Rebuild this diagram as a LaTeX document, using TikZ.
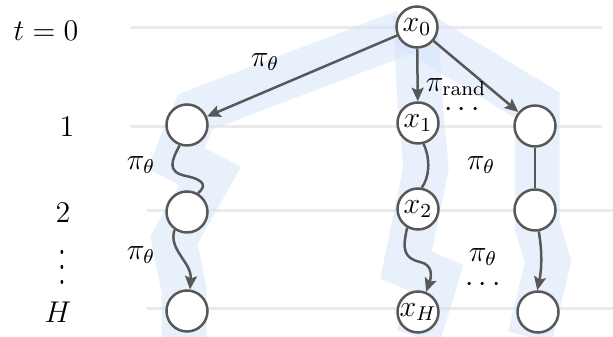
\documentclass[tikz,border=0pt]{standalone}
\usetikzlibrary{arrows.meta}
\definecolor{gline}{RGB}{234,234,234}
\definecolor{bandc}{RGB}{214,228,249}
\definecolor{edgec}{RGB}{88,88,88}
\begin{document}
\begin{tikzpicture}[x=0.4pt,y=-0.4pt, font=\fontsize{11.5}{14}\selectfont,
  gridline/.style={gline,line width=1.2pt},
  bandline/.style={draw=bandc,opacity=0.55,line width=18pt,line join=miter,line cap=butt},
  state/.style={circle,draw=edgec,fill=white,line width=1pt,minimum size=16.4pt,inner sep=0pt,font=\fontsize{12}{14}\selectfont},
  conn/.style={draw=edgec,line width=1pt},
  arr/.style={conn,-{Stealth[length=5.4pt,width=4.8pt,inset=1pt]}},
  lab/.style={inner sep=0pt}]
\useasboundingbox (0,0) rectangle (613,337);
% horizontal rows
\draw[gridline] (130,28) -- (602,28);
\draw[gridline] (130,127) -- (602,127);
\draw[gridline] (147,211) -- (613,211);
\draw[gridline] (147,309) -- (613,309);
% highlighted trajectories
\draw[bandline] (405,32) -- (195,112) -- (176,158) -- (210,176) -- (174,240) -- (184,290) -- (184,337);
\draw[bandline] (415,15) -- (420,100) -- (426,168) -- (406,265) -- (436,278) -- (418,337);
\draw[bandline] (405,25) -- (537,105) -- (537,225) -- (548,262) -- (530,337);
% nodes
\node[state] (x0) at (417,27) {$x_0$};
\node[state] (l1) at (187,125) {};
\node[state] (l2) at (187,212) {};
\node[state] (l3) at (187,311) {};
\node[state] (x1) at (418,123) {$x_1$};
\node[state] (x2) at (418,209) {$x_2$};
\node[state] (xH) at (418,312) {$x_H$};
\node[state] (r1) at (535,126) {};
\node[state] (r2) at (535,210) {};
\node[state] (r3) at (538,312) {};
% row labels
\node[lab] (t0) at (46,31) {$t=0$};
\node[lab] (row1) at (67,127) {$1$};
\node[lab] (row2) at (63,213) {$2$};
\node[lab] (rowdots) at (62,256) {\scalebox{1}[1.5]{$\vdots$}};
\node[lab] (rowH) at (58,312) {$H$};
% connectors
\draw[arr] (x0) -- (l1);
\draw[arr] (x0) -- (x1);
\draw[arr] (x0) -- (r1);
\draw[conn] (l1.-110) .. controls (172,160) and (166,172) .. (186,176) .. controls (206,180) and (206,187) .. (l2.60);
\draw[arr] (l2.-125) .. controls (168,250) and (192,262) .. (l3.82);
\draw[conn] (x1.-75) .. controls (431,160) and (429,178) .. (x2.80);
\draw[arr] (x2.-120) .. controls (402,250) and (404,258) .. (420,262) .. controls (434,265) and (431,278) .. (xH.68);
\draw[conn] (r1) -- (r2);
\draw[arr] (r2.-80) .. controls (542,250) and (542,268) .. (r3.92);
% edge labels
\node[lab] (p1) at (265,62) {$\pi_\theta$};
\node[lab] (prand) at (456,87) {$\pi_{\mathrm{rand}}$};
\node[lab] (d1) at (462,110) {$\cdots$};
\node[lab] (p2) at (141,165) {$\pi_\theta$};
\node[lab] (p3) at (141,255) {$\pi_\theta$};
\node[lab] (p4) at (481,165) {$\pi_\theta$};
\node[lab] (p5) at (483,257) {$\pi_\theta$};
\node[lab] (d2) at (483,285) {$\cdots$};
\end{tikzpicture}
\end{document}
